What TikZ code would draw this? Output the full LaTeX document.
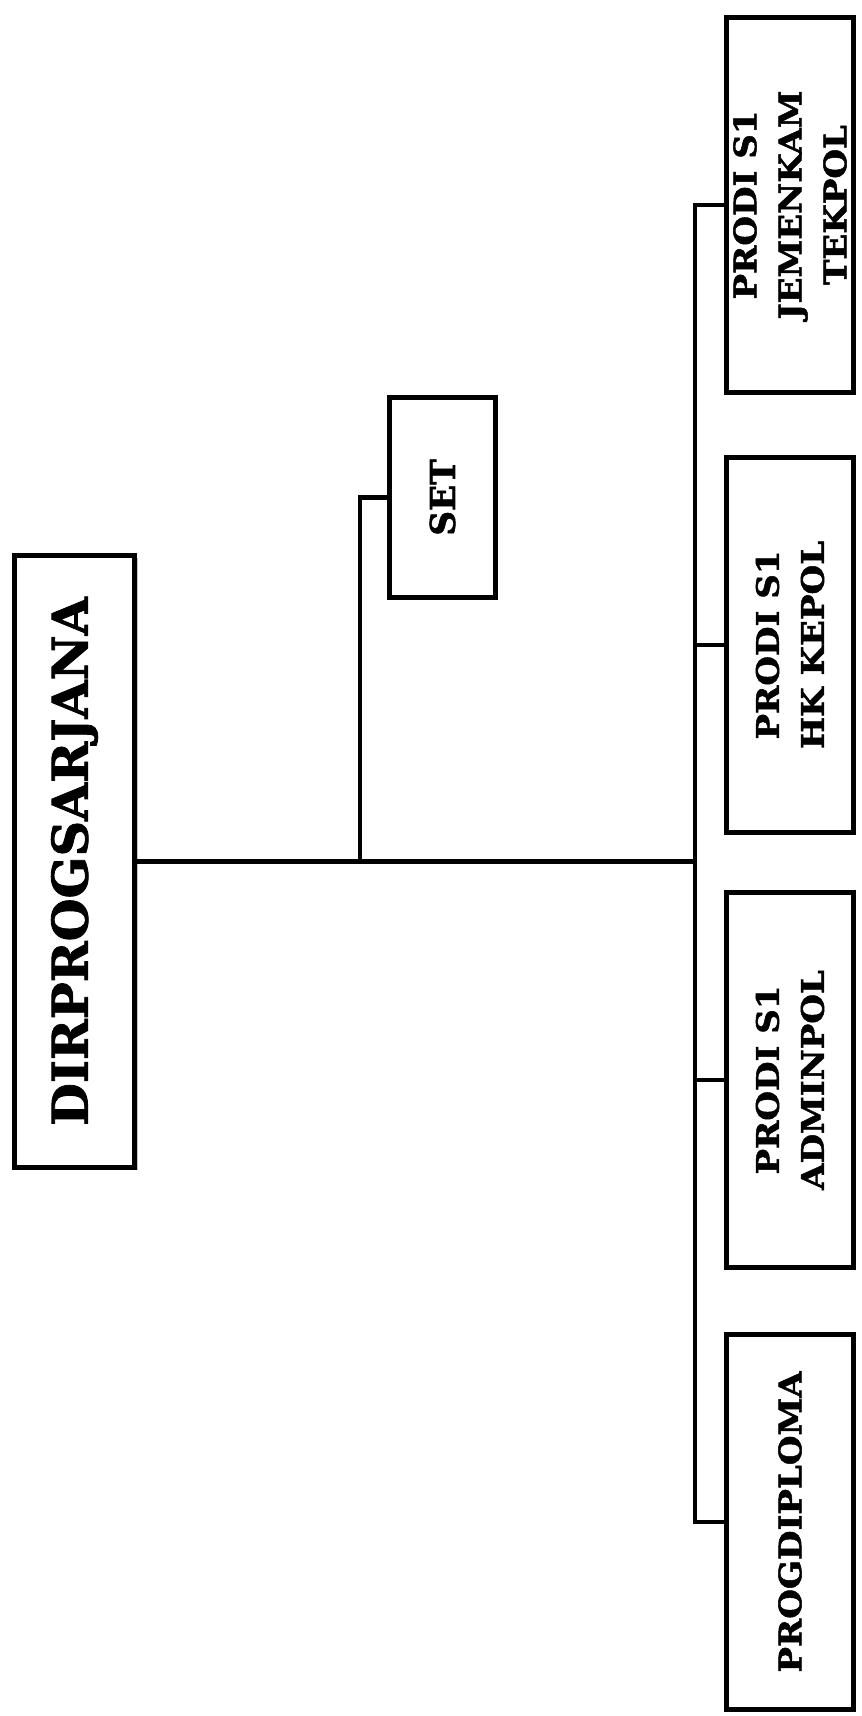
\documentclass[tikz,border=0pt]{standalone}
\usepackage{fontspec}
\usepackage{tikz}
\usetikzlibrary{shadows}
\setmainfont[BoldFeatures={FakeBold=1.6}]{DejaVu Serif}
\newfontfamily\unitfont[FakeStretch=1.1, BoldFeatures={FakeBold=1.6}]{DejaVu Serif}

\tikzset{
	orgbox/.style={draw, line width=3pt, fill=white, rotate=90, inner sep=0pt, align=center,
		drop shadow={shadow xshift=0.06cm, shadow yshift=-0.06cm, fill=black!45, opacity=0.5}},
	headbox/.style={orgbox, minimum width=12.24cm, minimum height=2.4cm, font=\bfseries\fontsize{28}{34}\selectfont},
	setbox/.style={orgbox, minimum width=3.99cm, minimum height=2.11cm, font=\bfseries\fontsize{19.5}{24}\selectfont},
	unitbox/.style={orgbox, minimum width=7.49cm, minimum height=2.53cm, font=\unitfont\bfseries\fontsize{17.6}{25.6}\selectfont},
	wire/.style={line width=2.5pt}
}

\begin{document}
\begin{tikzpicture}
	\useasboundingbox (0,0) rectangle (17.22,34.32);
	% Boxes:
	\node[headbox] (dir) at (1.49, 17.09) {DIRPROGSARJANA};
	\node[setbox] (set) at (8.85, 24.37) {SET};
	\node[unitbox] (jem) at (15.8, 30.22) {PRODI S1\\JEMENKAM\\TEKPOL};
	\node[unitbox] (hk) at (15.8, 21.42) {PRODI S1\\HK KEPOL};
	\node[unitbox] (adm) at (15.8, 12.72) {PRODI S1\\ADMINPOL};
	\node[unitbox] (dip) at (15.8, 3.88) {PROGDIPLOMA};
	% Junctions and wires:
	\coordinate (trunk) at (13.9, 17.09);
	\coordinate (fork) at (7.2, 17.09);
	\draw[wire] (dir.south) -- (trunk);
	\draw[wire] (set.north) -| (fork);
	\draw[wire] (jem.north) -| (trunk) |- (dip.north);
	\draw[wire] (hk.north) -- (hk.north -| trunk);
	\draw[wire] (adm.north) -- (adm.north -| trunk);
\end{tikzpicture}
\end{document}
